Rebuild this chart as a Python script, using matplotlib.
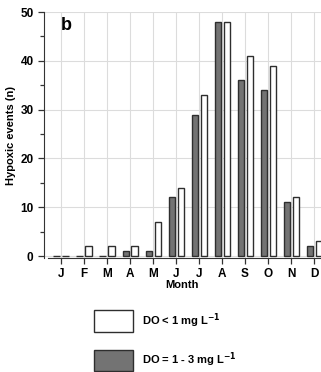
import numpy as np
import matplotlib
matplotlib.use("Agg")
import matplotlib.pyplot as plt
from matplotlib.patches import Patch

plt.rcParams['font.family'] = ['Liberation Sans', 'DejaVu Sans']
plt.rcParams['font.weight'] = 'bold'

months = ['J', 'F', 'M', 'A', 'M', 'J', 'J', 'A', 'S', 'O', 'N', 'D']
do_below_1 = [0, 2, 2, 2, 7, 14, 33, 48, 41, 39, 12, 3]
do_1_to_3 = [0, 0, 0, 1, 1, 12, 29, 48, 36, 34, 11, 2]

x = np.arange(len(months))

fig = plt.figure(figsize=(3.21, 3.72), dpi=100)
ax = fig.add_axes([0.137, 0.3065, 0.863, 0.661])

w = 0.29
ax.bar(x - 0.175, do_1_to_3, width=w, color='#737373', edgecolor='#2e2e2e',
       linewidth=1.0, zorder=3)
ax.bar(x + 0.215, do_below_1, width=w, color='white', edgecolor='#2e2e2e',
       linewidth=1.0, zorder=3)

ax.set_xlim(-0.73, 11.3)
ax.set_ylim(-0.4, 50)
ax.set_xticks(x)
ax.set_xticklabels(months)
ax.set_yticks([0, 10, 20, 30, 40, 50])
ax.set_yticks([5, 15, 25, 35, 45], minor=True)
ax.grid(True, which='major', color='#dcdcdc', linewidth=0.8, zorder=0)

for s in ['top', 'right']:
    ax.spines[s].set_visible(False)
ax.spines['left'].set_bounds(-0.4, 50)
ax.spines['bottom'].set_bounds(-0.55, 11.3)
ax.spines['left'].set_color('#333333')
ax.spines['bottom'].set_color('#333333')

ax.tick_params(axis='both', which='major', length=4, width=0.9, labelsize=8.5,
               colors='#333333', labelcolor='black')
ax.tick_params(axis='y', which='minor', length=3, width=0.9, colors='#333333')
ax.tick_params(axis='x', pad=3)

ax.set_ylabel('Hypoxic events (n)', fontsize=8, fontweight='bold', labelpad=3)
ax.set_xlabel('Month', fontsize=8, fontweight='bold', labelpad=0)

ax.text(0.08, 0.945, 'b', transform=ax.transAxes, fontsize=13,
        fontweight='bold', va='center', ha='center')

handles = [Patch(facecolor='white', edgecolor='#2e2e2e', linewidth=1.0),
           Patch(facecolor='#737373', edgecolor='#2e2e2e', linewidth=1.0)]
labels = ['DO < 1 mg L$^{\\mathbf{-1}}$', 'DO = 1 - 3 mg L$^{\\mathbf{-1}}$']
fig.legend(handles, labels, loc='upper left', bbox_to_anchor=(0.28, 0.178),
           frameon=False, handlelength=3.5, handleheight=2.6,
           labelspacing=1.6, handletextpad=0.8, borderaxespad=0,
           prop={'weight': 'bold', 'size': 8})

fig.savefig('out.png', dpi=100)
